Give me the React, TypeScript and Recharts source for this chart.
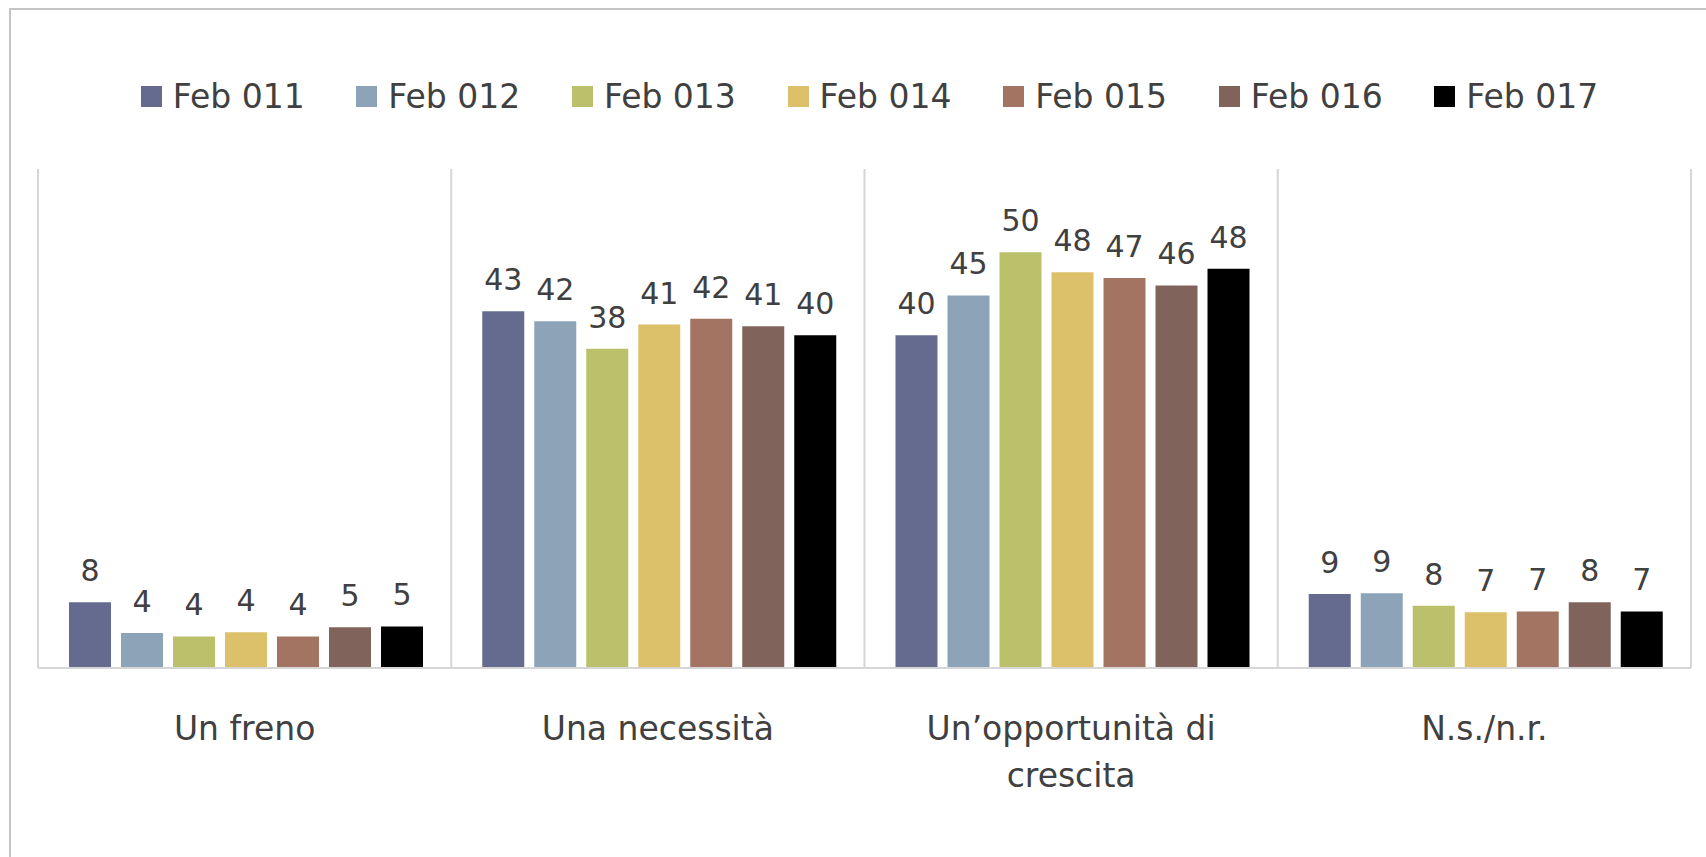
import { BarChart, Bar, XAxis, YAxis, CartesianGrid, Legend, LabelList } from 'recharts';

const categories = ['Un freno', 'Una necessità', 'Un’opportunità di crescita', 'N.s./n.r.'];

const seriesNames = ['Feb 011', 'Feb 012', 'Feb 013', 'Feb 014', 'Feb 015', 'Feb 016', 'Feb 017'];
const seriesColors = ['#646b8f', '#8ca3b8', '#bbc16b', '#dcc06a', '#a37462', '#80645c', '#000000'];

const feb011 = [7.9, 42.9, 40.0, 8.9];
const feb012 = [4.2, 41.7, 44.8, 9.0];
const feb013 = [3.8, 38.4, 50.0, 7.5];
const feb014 = [4.3, 41.3, 47.6, 6.7];
const feb015 = [3.8, 42.0, 46.9, 6.8];
const feb016 = [4.9, 41.1, 46.0, 7.9];
const feb017 = [5.0, 40.0, 48.0, 6.8];

const seriesValues = [feb011, feb012, feb013, feb014, feb015, feb016, feb017];

const data = categories.map((name, i) => {
  const row: Record<string, string | number> = { name };
  seriesNames.forEach((s, j) => {
    row[s] = seriesValues[j][i];
  });
  return row;
});

const FONT = '"DejaVu Sans", sans-serif';
const TEXT_COLOR = '#404040';
const GRID_COLOR = '#d6d6d6';

// simple word wrap by character count (labels wider than ~20 chars go on two lines)
const wrapLabel = (label: string, maxChars = 20) => {
  const lines: string[] = [];
  let cur = '';
  label.split(' ').forEach((w) => {
    const next = cur ? cur + ' ' + w : w;
    if (next.length > maxChars && cur) {
      lines.push(cur);
      cur = w;
    } else {
      cur = next;
    }
  });
  if (cur) lines.push(cur);
  return lines;
};

const CategoryTick = (props: any) => {
  const { x, y, payload } = props;
  const lines = wrapLabel(String(payload.value));
  return (
    <text
      x={x}
      y={y + 72}
      textAnchor="middle"
      fill={TEXT_COLOR}
      style={{ fontSize: 33, fontFamily: FONT }}
    >
      {lines.map((l, i) => (
        <tspan key={i} x={x} dy={i === 0 ? 0 : 47}>
          {l}
        </tspan>
      ))}
    </text>
  );
};

const LegendContent = (props: any) => {
  const payload = props.payload || [];
  return (
    <div
      style={{
        height: 146,
        display: 'flex',
        alignItems: 'center',
        justifyContent: 'center',
        paddingLeft: 10,
        fontFamily: FONT,
        fontSize: 33,
        color: TEXT_COLOR,
      }}
    >
      {payload.map((entry: any, i: number) => (
        <div
          key={entry.value}
          style={{
            display: 'flex',
            alignItems: 'center',
            width: i < payload.length - 1 ? 215.6 : 'auto',
            flexShrink: 0,
          }}
        >
          <span style={{ display: 'inline-block', width: 21, height: 21, background: entry.color, marginRight: 11 }} />
          <span style={{ whiteSpace: 'nowrap' }}>{entry.value}</span>
        </div>
      ))}
    </div>
  );
};

const App = () => {
  return (
    <div style={{ position: 'absolute', left: 0, top: 0, width: 1706, height: 857, background: '#fff', overflow: 'hidden' }}>
      <div
        style={{
          position: 'absolute',
          left: 9,
          top: 8,
          right: -4,
          bottom: -4,
          borderLeft: '2px solid #c4c4c4',
          borderTop: '2px solid #c4c4c4',
        }}
      />
      <div style={{ position: 'absolute', left: 0, top: 0 }}>
        <BarChart
          width={1706}
          height={857}
          data={data}
          margin={{ top: 23, right: 15, left: 38, bottom: 39 }}
          barCategoryGap={31}
          barGap={10}
        >
          <CartesianGrid
            horizontal={false}
            stroke={GRID_COLOR}
            strokeWidth={2}
            verticalCoordinatesGenerator={({ offset }: any) => {
              const n = categories.length;
              const xs = categories.map((_, i) => offset.left + (i * offset.width) / n);
              return [...xs, offset.left + offset.width];
            }}
          />
          <XAxis
            dataKey="name"
            height={150}
            tickLine={false}
            tickSize={0}
            tickMargin={0}
            axisLine={{ stroke: GRID_COLOR, strokeWidth: 2 }}
            tick={<CategoryTick />}
            interval={0}
          />
          <YAxis hide domain={[0, 60]} />
          <Legend verticalAlign="top" content={<LegendContent />} />
          {seriesNames.map((s, j) => (
            <Bar key={s} dataKey={s} name={s} fill={seriesColors[j]} isAnimationActive={false}>
              <LabelList
                dataKey={s}
                position="top"
                offset={21}
                formatter={(v: any) => Math.round(Number(v))}
                fill={TEXT_COLOR}
                style={{ fontSize: 30, fontFamily: FONT }}
              />
            </Bar>
          ))}
        </BarChart>
      </div>
    </div>
  );
};

export default App;
